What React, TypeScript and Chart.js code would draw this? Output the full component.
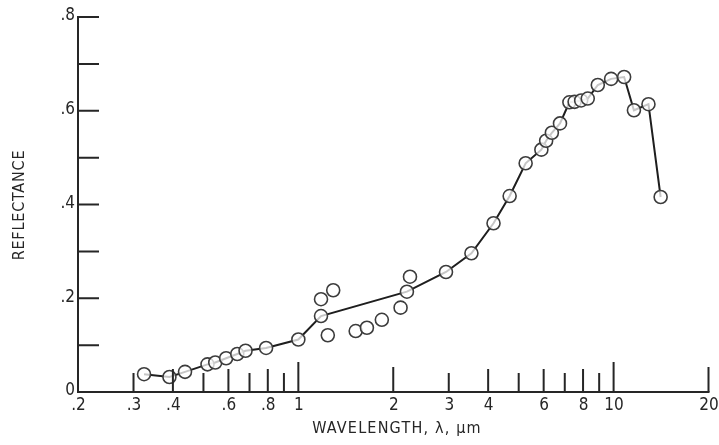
import React, { useEffect, useRef } from "react";
import { Chart, registerables } from "chart.js";

Chart.register(...registerables);

// Connected spectrum (wavelength in µm, reflectance)
const lineWavelengths = [0.324, 0.39, 0.437, 0.515, 0.545, 0.59, 0.64, 0.68, 0.79, 1.0, 1.18, 2.21, 2.94, 3.54, 4.16, 4.68, 5.26, 5.9, 6.11, 6.37, 6.76, 7.24, 7.52, 7.89, 8.28, 8.91, 9.82, 10.8, 11.6, 12.9, 14.1];
const lineReflectance = [0.038, 0.032, 0.043, 0.059, 0.063, 0.072, 0.081, 0.088, 0.094, 0.112, 0.162, 0.214, 0.256, 0.296, 0.36, 0.418, 0.488, 0.517, 0.536, 0.553, 0.573, 0.618, 0.619, 0.622, 0.626, 0.655, 0.668, 0.672, 0.601, 0.614, 0.416];

// Unconnected measurements
const scatterWavelengths = [1.18, 1.29, 1.24, 1.52, 1.65, 1.84, 2.11, 2.26];
const scatterReflectance = [0.198, 0.217, 0.121, 0.13, 0.137, 0.154, 0.18, 0.246];

// Axis ticks and labels
const xTickValues = [0.3, 0.4, 0.5, 0.6, 0.7, 0.8, 0.9, 1, 2, 3, 4, 5, 6, 7, 8, 9, 10, 20];
const xLabelValues = [0.2, 0.3, 0.4, 0.6, 0.8, 1, 2, 3, 4, 6, 8, 10, 20];
const xLabelTexts = [".2", ".3", ".4", ".6", ".8", "1", "2", "3", "4", "6", "8", "10", "20"];
const yTickValues = [0.1, 0.2, 0.3, 0.4, 0.5, 0.6, 0.7, 0.8];
const yLabelValues = [0, 0.2, 0.4, 0.6, 0.8];
const yLabelTexts = ["0", ".2", ".4", ".6", ".8"];

const xTitle = "WAVELENGTH, \u03bb, \u03bcm";
const yTitle = "REFLECTANCE";

const INK = "#262626";
const FONT_FAMILY = '"DejaVu Sans Condensed", "Liberation Sans Narrow", "DejaVu Sans", sans-serif';

function xTickLength(v: number): number {
  const lg = Math.log10(v);
  const mant = Math.round(v / Math.pow(10, Math.floor(lg + 1e-9)));
  if (mant === 1) return 30;
  if (mant === 2) return 25;
  if (mant % 2 === 0) return 23;
  return 19;
}

const axesPlugin = {
  id: "paperAxes",
  afterDatasetsDraw(chart: any) {
    const { ctx } = chart;
    const xs = chart.scales.x;
    const ys = chart.scales.y;
    const left = xs.getPixelForValue(0.2);
    const right = xs.getPixelForValue(20);
    const bottom = ys.getPixelForValue(0);
    const top = ys.getPixelForValue(0.8);
    ctx.save();
    ctx.strokeStyle = INK;
    ctx.lineWidth = 2;
    ctx.lineCap = "butt";
    ctx.beginPath();
    ctx.moveTo(left, top - 1);
    ctx.lineTo(left, bottom);
    ctx.lineTo(right + 1, bottom);
    ctx.stroke();

    ctx.beginPath();
    yTickValues.forEach((v) => {
      const py = ys.getPixelForValue(v);
      ctx.moveTo(left, py);
      ctx.lineTo(left + 21, py);
    });
    xTickValues.forEach((v) => {
      const px = xs.getPixelForValue(v);
      ctx.moveTo(px, bottom);
      ctx.lineTo(px, bottom - xTickLength(v));
    });
    ctx.stroke();

    ctx.fillStyle = INK;
    ctx.font = `17px ${FONT_FAMILY}`;
    ctx.textAlign = "center";
    ctx.textBaseline = "middle";
    xLabelValues.forEach((v, i) => {
      ctx.fillText(xLabelTexts[i], xs.getPixelForValue(v) + 0.5, bottom + 14);
    });
    ctx.textAlign = "right";
    yLabelValues.forEach((v, i) => {
      ctx.fillText(yLabelTexts[i], left - 3, ys.getPixelForValue(v) - 1);
    });

    ctx.font = `16px ${FONT_FAMILY}`;
    (ctx as any).letterSpacing = "1.2px";
    ctx.textAlign = "center";
    ctx.fillText(xTitle, 397, 429);
    ctx.save();
    ctx.translate(20, 205);
    ctx.rotate(-Math.PI / 2);
    (ctx as any).letterSpacing = "0.8px";
    ctx.fillText(yTitle, 0, 0);
    ctx.restore();
    ctx.restore();
  },
};

export default function App() {
  const canvasRef = useRef<HTMLCanvasElement | null>(null);

  useEffect(() => {
    const canvas = canvasRef.current;
    if (!canvas) return;
    const chart = new Chart(canvas, {
      type: "line",
      data: {
        datasets: [
          {
            label: "spectrum",
            data: lineWavelengths.map((x, i) => ({ x, y: lineReflectance[i] })),
            borderColor: "#1e1e1e",
            borderWidth: 2,
            tension: 0,
            pointRadius: 6.5,
            pointBorderWidth: 1.6,
            pointBorderColor: "#3c3c3c",
            pointBackgroundColor: "rgba(255,255,255,0.75)",
            showLine: true,
          },
          {
            label: "scatter",
            data: scatterWavelengths.map((x, i) => ({ x, y: scatterReflectance[i] })),
            borderColor: "#3c3c3c",
            showLine: false,
            pointRadius: 6.5,
            pointBorderWidth: 1.6,
            pointBorderColor: "#3c3c3c",
            pointBackgroundColor: "rgba(255,255,255,0.75)",
          },
        ],
      },
      options: {
        responsive: false,
        animation: false,
        devicePixelRatio: 1,
        layout: { padding: { left: 78, right: 10.5, top: 17, bottom: 53 } },
        plugins: {
          legend: { display: false },
          tooltip: { enabled: false },
        },
        scales: {
          x: { type: "logarithmic", min: 0.2, max: 20, display: false },
          y: { type: "linear", min: 0, max: 0.8, display: false },
        },
      },
      plugins: [axesPlugin],
    });
    return () => chart.destroy();
  }, []);

  return (
    <div style={{ position: "absolute", left: 0, top: 0, width: 719, height: 445, background: "#fff" }}>
      <canvas ref={canvasRef} width={719} height={445} style={{ display: "block", width: 719, height: 445, filter: "blur(0.4px)" }} />
    </div>
  );
}
